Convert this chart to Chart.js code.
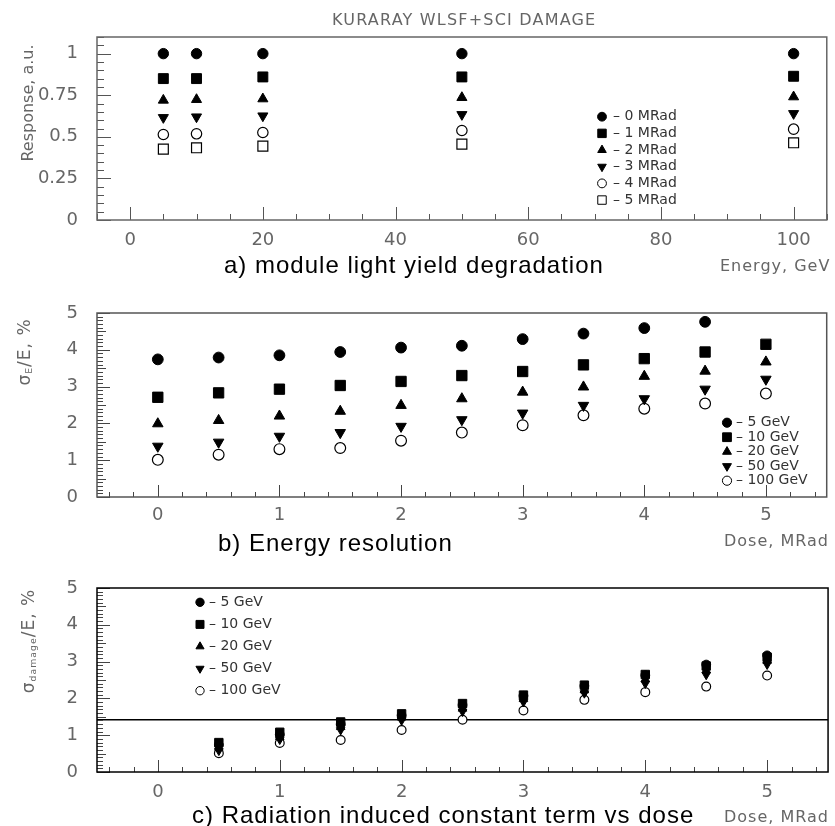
<!DOCTYPE html>
<html><head><meta charset="utf-8">
<script src="https://cdn.jsdelivr.net/npm/chart.js@4.4.1/dist/chart.umd.min.js"></script>
<style>
html,body{margin:0;padding:0;background:#fff;}
#wrap{position:relative;width:835px;height:826px;overflow:hidden;background:#fff;}
canvas{position:absolute;left:0;}
.t{position:absolute;white-space:nowrap;font-family:"DejaVu Sans",sans-serif;color:#666;line-height:1;}
.cap{position:absolute;white-space:nowrap;font-family:"Liberation Sans",Arial,sans-serif;color:#000;font-size:24px;letter-spacing:1px;line-height:24px;}
.rot{position:absolute;white-space:nowrap;font-family:"DejaVu Sans",sans-serif;color:#666;line-height:1;transform:translate(-50%,-50%) rotate(-90deg);}
.rot sub{font-size:55%;vertical-align:-0.25em;}
</style></head>
<body><div id="wrap">
<canvas id="ca" width="835" height="280" style="top:0"></canvas>
<canvas id="cb" width="835" height="276" style="top:280px"></canvas>
<canvas id="cc" width="835" height="270" style="top:556px"></canvas>
<div class="t" style="left:332px;top:12px;font-size:16px;letter-spacing:1.2px;">KURARAY WLSF+SCI DAMAGE</div>
<div class="rot" style="left:28px;top:103px;font-size:16px;">Response, a.u.</div>
<div class="cap" style="left:224px;top:253px;">a) module light yield degradation</div>
<div class="t" style="left:720px;top:258px;font-size:16px;letter-spacing:1px;">Energy, GeV</div>
<div class="rot" style="left:25px;top:352px;font-size:17px;letter-spacing:1px;">σ<sub>E</sub>/E, %</div>
<div class="cap" style="left:218px;top:531px;">b) Energy resolution</div>
<div class="t" style="left:724px;top:533px;font-size:16px;letter-spacing:1px;">Dose, MRad</div>
<div class="rot" style="left:29px;top:641px;font-size:17px;letter-spacing:1px;">σ<sub>damage</sub>/E, %</div>
<div class="cap" style="left:192px;top:803px;">c) Radiation induced constant term vs dose</div>
<div class="t" style="left:724px;top:809px;font-size:16px;letter-spacing:1px;">Dose, MRad</div>
</div>
<script>
// ---------- DATA ----------
// Panel a: response vs energy for each dose
const energies = [5, 10, 20, 50, 100];
const doseLabels = ['0 MRad', '1 MRad', '2 MRad', '3 MRad', '4 MRad', '5 MRad'];
const resp0MRad = [1.0, 1.0, 1.0, 1.0, 1.0];
const resp1MRad = [0.85, 0.85, 0.86, 0.86, 0.864];
const resp2MRad = [0.72, 0.724, 0.728, 0.736, 0.74];
const resp3MRad = [0.616, 0.62, 0.626, 0.634, 0.64];
const resp4MRad = [0.514, 0.518, 0.526, 0.538, 0.546];
const resp5MRad = [0.426, 0.434, 0.444, 0.456, 0.464];
const xTicksA = [0, 20, 40, 60, 80, 100];
const yTicksA = [0, 0.25, 0.5, 0.75, 1];

// Panel b: energy resolution vs dose for each energy
const dosesB = [0, 0.5, 1, 1.5, 2, 2.5, 3, 3.5, 4, 4.5, 5];
const energyLabels = ['5 GeV', '10 GeV', '20 GeV', '50 GeV', '100 GeV'];
const res5GeV   = [3.74, 3.79, 3.85, 3.94, 4.06, 4.11, 4.29, 4.44, 4.59, 4.76, null];
const res10GeV  = [2.71, 2.83, 2.93, 3.03, 3.14, 3.30, 3.41, 3.59, 3.76, 3.94, 4.15];
const res20GeV  = [1.99, 2.08, 2.20, 2.33, 2.49, 2.67, 2.85, 2.99, 3.28, 3.42, 3.67];
const res50GeV  = [1.38, 1.49, 1.65, 1.75, 1.92, 2.10, 2.28, 2.49, 2.67, 2.93, 3.20];
const res100GeV = [1.01, 1.15, 1.30, 1.33, 1.53, 1.75, 1.95, 2.22, 2.40, 2.54, 2.81];
const xTicksBC = [0, 1, 2, 3, 4, 5];
const yTicksBC = [0, 1, 2, 3, 4, 5];

// Panel c: radiation induced constant term vs dose
const dosesC = [0.5, 1, 1.5, 2, 2.5, 3, 3.5, 4, 4.5, 5];
const dmg5GeV   = [0.74, 1.02, 1.30, 1.54, 1.82, 2.07, 2.34, 2.63, 2.92, 3.17];
const dmg10GeV  = [0.80, 1.08, 1.36, 1.58, 1.86, 2.09, 2.36, 2.65, 2.88, 3.12];
const dmg20GeV  = [0.66, 0.95, 1.22, 1.48, 1.72, 1.98, 2.22, 2.52, 2.76, 3.02];
const dmg50GeV  = [0.58, 0.88, 1.14, 1.40, 1.64, 1.90, 2.14, 2.40, 2.64, 2.92];
const dmg100GeV = [0.51, 0.79, 0.87, 1.14, 1.42, 1.67, 1.96, 2.17, 2.32, 2.62];
const refLevelC = 1.42;
const refRangeC = [-0.5, 5.5];

// ---------- STYLES ----------
const markerStyles = [
  {pointStyle:'circle', rotation:0, fill:'#000'},
  {pointStyle:'rect', rotation:0, fill:'#000'},
  {pointStyle:'triangle', rotation:0, fill:'#000'},
  {pointStyle:'triangle', rotation:180, fill:'#000'},
  {pointStyle:'circle', rotation:0, fill:'#fff'},
  {pointStyle:'rect', rotation:0, fill:'#fff'}
];
const sizeScale = {circle:1, rect:1.35, triangle:1.12};

function pts(xs, ys) {
  const out = [];
  xs.forEach((x, i) => { if (ys[i] !== null && ys[i] !== undefined) out.push({x: x, y: ys[i]}); });
  return out;
}
function mkDs(label, data, k, r) {
  const m = markerStyles[k];
  return {
    type: 'scatter', label: label, data: data, showLine: false,
    pointStyle: m.pointStyle, rotation: m.rotation,
    pointRadius: r * sizeScale[m.pointStyle],
    backgroundColor: m.fill, borderColor: '#000',
    pointBorderWidth: m.fill === '#fff' ? 1.2 : 1,
    borderWidth: m.fill === '#fff' ? 1.2 : 1
  };
}

const decoPlugin = {
  id: 'deco',
  afterDraw(chart, args, o) {
    const ctx = chart.ctx, a = chart.chartArea;
    ctx.save();
    ctx.strokeStyle = o.tickColor; ctx.lineWidth = 1;
    ctx.beginPath();
    const drawT = (scale, spec, horiz) => {
      const s = Math.ceil(scale.min / spec.minor - 1e-6), e = Math.floor(scale.max / spec.minor + 1e-6);
      for (let i = s; i <= e; i++) {
        const v = i * spec.minor;
        const isM = Math.abs(v / spec.major - Math.round(v / spec.major)) < 1e-6;
        const isMid = spec.mid && Math.abs(v / spec.mid - Math.round(v / spec.mid)) < 1e-6;
        const len = isM ? spec.lMajor : (isMid ? spec.lMid : spec.lMinor);
        const p = Math.round(scale.getPixelForValue(v)) + 0.5;
        if (horiz) { ctx.moveTo(p, a.bottom); ctx.lineTo(p, a.bottom - len); }
        else { ctx.moveTo(a.left, p); ctx.lineTo(a.left + len, p); }
      }
    };
    drawT(chart.scales.x, o.xt, true);
    drawT(chart.scales.y, o.yt, false);
    ctx.stroke();
    ctx.strokeStyle = o.frameColor; ctx.lineWidth = o.frameWidth;
    ctx.strokeRect(a.left, a.top, a.right - a.left, a.bottom - a.top);
    const L = o.legend;
    ctx.font = L.font; ctx.textBaseline = 'middle'; ctx.textAlign = 'left';
    let row = 0;
    chart.data.datasets.forEach((ds) => {
      if (ds.noLegend) return;
      const y = L.y0 + row * L.dy;
      ctx.fillStyle = ds.backgroundColor; ctx.strokeStyle = '#000'; ctx.lineWidth = 1;
      Chart.helpers.drawPoint(ctx, {pointStyle: ds.pointStyle, rotation: ds.rotation, radius: ds.pointRadius * L.scale, borderWidth: 1}, L.x, y);
      ctx.fillStyle = L.color;
      ctx.fillText('\u2013 ' + ds.label, L.tx, y);
      row++;
    });
    ctx.restore();
  }
};

const tickFont = {family: 'DejaVu Sans', size: 18};
function axes(xmin, xmax, ymin, ymax, xt, yt, yWidth, xHeight, xPad) {
  return {
    x: {type: 'linear', position: 'bottom', min: xmin, max: xmax,
        afterBuildTicks: s => { s.ticks = xt.map(v => ({value: v})); },
        ticks: {padding: xPad, font: tickFont, color: '#666', maxRotation: 0, autoSkip: false, callback: v => String(v)},
        grid: {display: false, drawTicks: false}, border: {display: false},
        afterFit: s => { s.height = xHeight; }},
    y: {type: 'linear', min: ymin, max: ymax,
        afterBuildTicks: s => { s.ticks = yt.map(v => ({value: v})); },
        ticks: {padding: 19, font: tickFont, color: '#666', autoSkip: false, callback: v => String(v)},
        grid: {display: false, drawTicks: false}, border: {display: false},
        afterFit: s => { s.width = yWidth; }}
  };
}
const common = (padTop, sc, deco) => ({
  responsive: false, animation: false, events: [], devicePixelRatio: 1,
  layout: {padding: {top: padTop, right: 2, left: 0, bottom: 0}},
  scales: sc,
  plugins: {legend: {display: false}, tooltip: {enabled: false}, deco: deco}
});

// Panel a
const respSeries = [resp0MRad, resp1MRad, resp2MRad, resp3MRad, resp4MRad, resp5MRad];
new Chart(document.getElementById('ca'), {
  type: 'scatter',
  data: {datasets: respSeries.map((s, k) => mkDs(doseLabels[k], pts(energies, s), k, 5.2))},
  options: common(37, axes(-5, 105, 0, 1.1, xTicksA, yTicksA, 97, 60, 10), {
    tickColor: '#555', frameColor: '#666', frameWidth: 1.5,
    xt: {minor: 5, major: 20, mid: 10, lMinor: 6, lMid: 6, lMajor: 13},
    yt: {minor: 0.05, major: 0.25, mid: 0, lMinor: 7, lMid: 7, lMajor: 14},
    legend: {x: 602, tx: 613, y0: 116.7, dy: 16.67, font: '14px "DejaVu Sans"', color: '#333', scale: 0.85}
  }),
  plugins: [decoPlugin]
});

// Panel b
const resSeries = [res5GeV, res10GeV, res20GeV, res50GeV, res100GeV];
const mapB = [0, 1, 2, 3, 4];
new Chart(document.getElementById('cb'), {
  type: 'scatter',
  data: {datasets: resSeries.map((s, k) => mkDs(energyLabels[k], pts(dosesB, s), mapB[k], 5.4))},
  options: common(33, axes(-0.5, 5.5, 0, 5, xTicksBC, yTicksBC, 97, 59, 8), {
    tickColor: '#444', frameColor: '#555', frameWidth: 1.5,
    xt: {minor: 0.2, major: 1, mid: 0, lMinor: 5, lMid: 5, lMajor: 12},
    yt: {minor: 0.1, major: 1, mid: 0.5, lMinor: 6, lMid: 9, lMajor: 13},
    legend: {x: 727, tx: 736, y0: 422.7 - 280, dy: 14.5, font: '14px "DejaVu Sans"', color: '#333', scale: 0.85}
  }),
  plugins: [decoPlugin]
});

// Panel c
const dmgSeries = [dmg5GeV, dmg10GeV, dmg20GeV, dmg50GeV, dmg100GeV];
const dsC = dmgSeries.map((s, k) => mkDs(energyLabels[k], pts(dosesC, s), mapB[k], 4.4));
dsC.push({type: 'line', label: 'ref', noLegend: true, data: [{x: refRangeC[0], y: refLevelC}, {x: refRangeC[1], y: refLevelC}],
  borderColor: '#000', borderWidth: 1.5, pointRadius: 0, fill: false});
new Chart(document.getElementById('cc'), {
  type: 'scatter',
  data: {datasets: dsC},
  options: common(32, axes(-0.5, 5.5, 0, 5, xTicksBC, yTicksBC, 97, 54, 10), {
    tickColor: '#444', frameColor: '#000', frameWidth: 1.5,
    xt: {minor: 0.2, major: 1, mid: 0, lMinor: 5, lMid: 5, lMajor: 12},
    yt: {minor: 0.1, major: 1, mid: 0.5, lMinor: 6, lMid: 9, lMajor: 13},
    legend: {x: 200, tx: 209, y0: 602.3 - 556, dy: 22.1, font: '14px "DejaVu Sans"', color: '#333', scale: 0.95}
  }),
  plugins: [decoPlugin]
});
</script>
</body></html>
